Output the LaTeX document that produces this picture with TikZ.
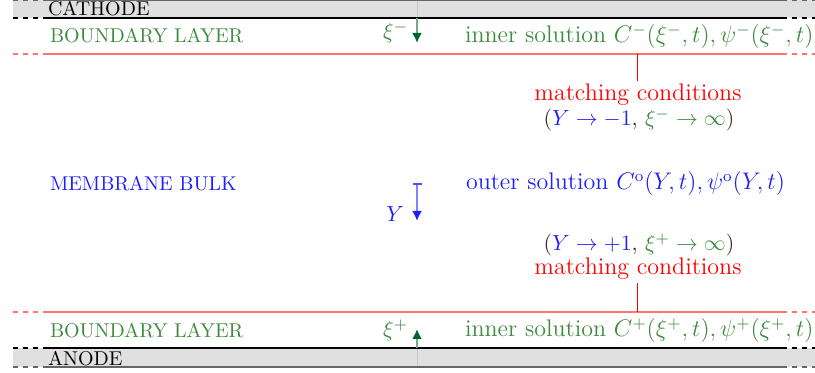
\documentclass[tikz,border=0pt,12pt]{standalone}
\usepackage{amsmath}
\usepackage{amssymb}
\usetikzlibrary{arrows.meta}
\definecolor{layergreen}{RGB}{62,138,62}
\definecolor{arrowgreen}{RGB}{0,100,45}
\definecolor{bulkblue}{RGB}{30,30,255}

\begin{document}
\begin{tikzpicture}[
		x=0.5pt, y=0.5pt,
		every node/.style={inner sep=0pt, outer sep=0pt},
		region/.style={anchor=base west, font=\fontsize{10}{12}\selectfont},
		band/.style={fill=black!12, draw=none},
		wall/.style={black, line width=0.6pt},
		rim/.style={black!60, line width=0.8pt},
		edgeline/.style={red!55, line width=0.6pt},
		gap/.style={dash pattern=on 2.5pt off 2.5pt},
		matchtick/.style={draw=red, line width=0.45pt},
		match/.style={anchor=base, text=red},
		axislabel/.style={anchor=base east, font=\small}
	]
  \useasboundingbox (0,0) rectangle (815,373);
  % electrodes
  \fill[band] (13,355) rectangle (815,373);
  \fill[band] (13,6) rectangle (815,25);
  \draw[black!22] (417,355) -- (417,373);
  \draw[black!22] (417,6) -- (417,25);
  \foreach \y/\s in {355/wall, 373/rim, 25/wall, 6/rim, 319/edgeline, 61/edgeline} {
    \draw[\s] (43,\y) -- (782,\y);
    \draw[\s, gap] (13,\y) -- (43,\y);
    \draw[\s, gap] (782,\y) -- (815,\y);
  }
  % region labels
  \node (cathode) [region] at (48,357) {CATHODE};
  \node (bl_top) [region, text=layergreen] at (50,330) {BOUNDARY LAYER};
  \node (bulk) [region, text=bulkblue] at (50,182) {MEMBRANE BULK};
  \node (bl_bottom) [region, text=layergreen] at (50,35) {BOUNDARY LAYER};
  \node (anode) [region] at (48,7) {ANODE};
  % local coordinates
  \coordinate (xi_m_start) at (417,355);
  \coordinate (xi_m_end) at (417,330);
  \coordinate (Y_start) at (417,190);
  \coordinate (Y_end) at (417,152);
  \coordinate (xi_p_start) at (417,25);
  \coordinate (xi_p_end) at (417,44);
  \draw[arrowgreen!55, line width=1pt, -{Latex[length=5pt, width=5pt, arrowgreen]}] (xi_m_start) -- (xi_m_end);
  \draw[bulkblue!55, line width=1pt, {Bar[width=4.5pt, bulkblue!80]}-{Latex[length=5pt, width=5pt, bulkblue]}] (Y_start) -- (Y_end);
  \draw[arrowgreen!55, line width=1pt, -{Latex[length=5pt, width=5pt, arrowgreen]}] (xi_p_start) -- (xi_p_end);
  \node (xi_m) [axislabel, text=layergreen] at (408,334) {$\xi^-$};
  \node (Y) [axislabel, text=bulkblue] at (404,151) {$Y$};
  \node (xi_p) [axislabel, text=layergreen] at (408,36) {$\xi^+$};
  % solutions
  \node (inner_top) [anchor=base west, text=layergreen] at (465,330)
    {inner solution $C^-(\xi^-,t), \psi^-(\xi^-,t)$};
  \node (outer) [anchor=base west, text=bulkblue] at (466,183)
    {outer solution $C^\mathrm{o}(Y,t), \psi^\mathrm{o}(Y,t)$};
  \node (inner_bottom) [anchor=base west, text=layergreen] at (465,36)
    {inner solution $C^+(\xi^+,t), \psi^+(\xi^+,t)$};
  % matching
  \node (match_up) [match] at (638,272) {matching conditions};
  \node (cond_up) [anchor=base, font=\small, text=black!80] at (639,247)
    {$(\textcolor{bulkblue}{Y \to -1}, \, \textcolor{layergreen}{\xi^- \to \infty})$};
  \node (cond_low) [anchor=base, font=\small, text=black!80] at (639,122)
    {$(\textcolor{bulkblue}{Y \to +1}, \, \textcolor{layergreen}{\xi^+ \to \infty})$};
  \node (match_low) [match] at (638,98) {matching conditions};
  \coordinate (line_up) at (637,319);
  \coordinate (line_low) at (637,61);
  \draw[matchtick] (line_up) -- ([yshift=1.5pt]line_up |- match_up.north);
  \draw[matchtick] (line_low) -- ([yshift=-1.5pt]line_low |- match_low.south);
\end{tikzpicture}
\end{document}
